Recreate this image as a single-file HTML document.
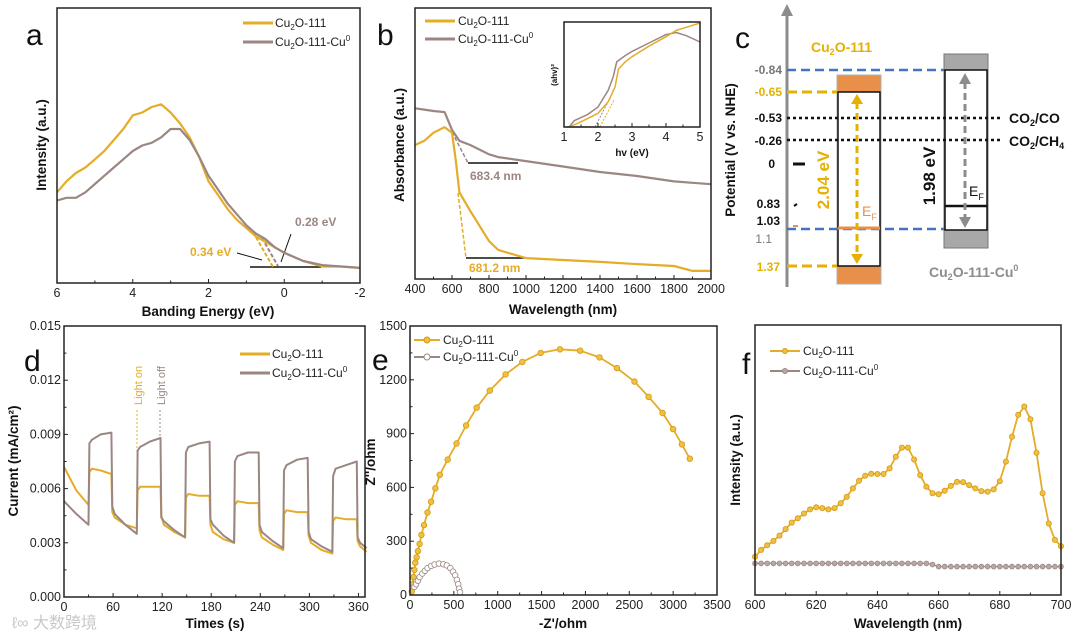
<!DOCTYPE html>
<html><head><meta charset="utf-8">
<style>
html,body{margin:0;padding:0;background:#fff;}
svg{display:block;font-family:"Liberation Sans","Noto Sans CJK SC",sans-serif;}
.tk{font-size:12.5px;fill:#222;}
.at{font-size:13.5px;font-weight:bold;fill:#111;}
.lg{font-size:12px;fill:#222;}
.pl{font-size:30px;fill:#111;}
</style></head>
<body>
<svg id="fig" width="1080" height="638" viewBox="0 0 1080 638" xmlns="http://www.w3.org/2000/svg">
<text class="pl" x="26" y="45">a</text>
<text class="at" x="208" y="316" text-anchor="middle">Banding Energy (eV)</text>
<text class="at" transform="translate(46,145) rotate(-90)" text-anchor="middle">Intensity (a.u.)</text>
<g>
<line x1="243" y1="23" x2="273" y2="23" stroke="#e5ac28" stroke-width="3"/>
<text class="lg" x="275" y="27">Cu<tspan font-size="8" dy="3">2</tspan><tspan dy="-3">O-111</tspan></text>
<line x1="243" y1="42" x2="273" y2="42" stroke="#9b8782" stroke-width="3"/>
<text class="lg" x="275" y="46">Cu<tspan font-size="8" dy="3">2</tspan><tspan dy="-3">O-111-Cu</tspan><tspan font-size="8" dy="-5">0</tspan></text>
</g>
<g>
<line x1="250" y1="267" x2="321" y2="267" stroke="#111" stroke-width="1.5"/>
<line x1="253" y1="232" x2="273" y2="267" stroke="#e5ac28" stroke-width="2" stroke-dasharray="4,2"/>
<line x1="262" y1="238" x2="278" y2="266" stroke="#9b8782" stroke-width="2" stroke-dasharray="4,2"/>
<text x="190" y="256" font-size="12" font-weight="bold" fill="#e5ac28">0.34 eV</text>
<line x1="237" y1="253" x2="262" y2="260" stroke="#111" stroke-width="1"/>
<text x="295" y="226" font-size="12" font-weight="bold" fill="#9b8782">0.28 eV</text>
<line x1="291" y1="234" x2="281" y2="262" stroke="#111" stroke-width="1"/>
</g>
<text class="pl" x="377" y="45">b</text>
<text class="at" x="563" y="314" text-anchor="middle">Wavelength (nm)</text>
<text class="at" transform="translate(404,145) rotate(-90)" text-anchor="middle">Absorbance (a.u.)</text>
<g>
<line x1="425" y1="21" x2="455" y2="21" stroke="#e5ac28" stroke-width="3"/>
<text class="lg" x="458" y="25">Cu<tspan font-size="8" dy="3">2</tspan><tspan dy="-3">O-111</tspan></text>
<line x1="425" y1="39" x2="455" y2="39" stroke="#9b8782" stroke-width="3"/>
<text class="lg" x="458" y="43">Cu<tspan font-size="8" dy="3">2</tspan><tspan dy="-3">O-111-Cu</tspan><tspan font-size="8" dy="-5">0</tspan></text>
</g>
<g>
<line x1="468" y1="163" x2="518" y2="163" stroke="#111" stroke-width="1.5"/>
<line x1="452" y1="132" x2="468" y2="163" stroke="#9b8782" stroke-width="1.5" stroke-dasharray="4,2"/>
<text x="470" y="180" font-size="12" font-weight="bold" fill="#9b8782">683.4 nm</text>
<line x1="466" y1="258" x2="524" y2="258" stroke="#111" stroke-width="1.5"/>
<line x1="458" y1="193" x2="466" y2="258" stroke="#e5ac28" stroke-width="1.5" stroke-dasharray="4,2"/>
<text x="469" y="272" font-size="12" font-weight="bold" fill="#e5ac28">681.2 nm</text>
</g>
<text transform="translate(557,75) rotate(-90)" text-anchor="middle" font-size="8" font-weight="bold" fill="#111">(ahv)²</text>
<text x="632" y="156" text-anchor="middle" font-size="10" font-weight="bold" fill="#111">hv (eV)</text>
<text x="566" y="99" font-size="8.5" font-weight="bold" fill="#9b8782">1.98 eV</text>
<text x="615" y="123" font-size="8.5" font-weight="bold" fill="#e5ac28">2.04 eV</text>
<g>
<text class="pl" x="735" y="48">c</text>
<text class="at" transform="translate(735,150) rotate(-90)" text-anchor="middle" font-size="14">Potential  (V vs. NHE)</text>
<line x1="787" y1="287" x2="787" y2="14" stroke="#8c8c8c" stroke-width="3"/>
<polygon points="781,16 793,16 787,4" fill="#8c8c8c"/>
<rect x="837" y="75" width="44" height="209" fill="#e8904a" stroke="#b0b0b0" stroke-width="1"/>
<rect x="838" y="92" width="42" height="174" fill="#fff" stroke="#111" stroke-width="1.5"/>
<rect x="944" y="54" width="44" height="194" fill="#a8a8a8" stroke="#777" stroke-width="1"/>
<rect x="945" y="70" width="42" height="160" fill="#fff" stroke="#111" stroke-width="1.5"/>
<line x1="787" y1="70" x2="944" y2="70" stroke="#4472c4" stroke-width="2.5" stroke-dasharray="9,5"/>
<line x1="787" y1="229" x2="944" y2="229" stroke="#4472c4" stroke-width="2.5" stroke-dasharray="9,5"/>
<line x1="787" y1="92" x2="837" y2="92" stroke="#e5b000" stroke-width="3" stroke-dasharray="10,5"/>
<line x1="787" y1="266" x2="837" y2="266" stroke="#e5b000" stroke-width="3" stroke-dasharray="10,5"/>
<line x1="787" y1="118" x2="1000" y2="118" stroke="#111" stroke-width="2.5" stroke-dasharray="3,3"/>
<line x1="787" y1="140" x2="1000" y2="140" stroke="#111" stroke-width="2.5" stroke-dasharray="3,3"/>
<line x1="793" y1="164" x2="805" y2="164" stroke="#111" stroke-width="3"/>
<line x1="794" y1="206" x2="797" y2="204" stroke="#111" stroke-width="2"/>
<line x1="793" y1="226" x2="798" y2="226" stroke="#e8904a" stroke-width="2"/>
<line x1="838" y1="228" x2="880" y2="228" stroke="#e8904a" stroke-width="3"/>
<line x1="945" y1="206" x2="987" y2="206" stroke="#111" stroke-width="2.5"/>
<line x1="857" y1="102" x2="857" y2="256" stroke="#e5b000" stroke-width="3" stroke-dasharray="7,4"/>
<polygon points="851,104 863,104 857,94" fill="#e5b000"/>
<polygon points="851,254 863,254 857,264" fill="#e5b000"/>
<line x1="965" y1="82" x2="965" y2="219" stroke="#8c8c8c" stroke-width="3" stroke-dasharray="7,4"/>
<polygon points="959,84 971,84 965,73" fill="#8c8c8c"/>
<polygon points="959,217 971,217 965,228" fill="#8c8c8c"/>
<text transform="translate(829,180) rotate(-90)" text-anchor="middle" font-size="17" font-weight="bold" fill="#e5b000">2.04 eV</text>
<text transform="translate(935,176) rotate(-90)" text-anchor="middle" font-size="17" font-weight="bold" fill="#111">1.98 eV</text>
<text x="862" y="216" font-size="14" fill="#e8904a">E<tspan font-size="9" dy="4">F</tspan></text>
<text x="969" y="196" font-size="14" fill="#111">E<tspan font-size="9" dy="4">F</tspan></text>
<text x="811" y="52" font-size="14" font-weight="bold" fill="#e5b000">Cu<tspan font-size="9" dy="3">2</tspan><tspan dy="-3">O-111</tspan></text>
<text x="929" y="277" font-size="14" font-weight="bold" fill="#8c8c8c">Cu<tspan font-size="9" dy="3">2</tspan><tspan dy="-3">O-111-Cu</tspan><tspan font-size="9" dy="-6">0</tspan></text>
<text x="1009" y="123" font-size="14" font-weight="bold" fill="#111">CO<tspan font-size="9" dy="3">2</tspan><tspan dy="-3">/CO</tspan></text>
<text x="1009" y="146" font-size="14" font-weight="bold" fill="#111">CO<tspan font-size="9" dy="3">2</tspan><tspan dy="-3">/CH</tspan><tspan font-size="9" dy="3">4</tspan></text>
<g font-size="12" font-weight="bold" text-anchor="end">
<text x="782" y="74" fill="#777">-0.84</text>
<text x="782" y="96" fill="#e5b000">-0.65</text>
<text x="782" y="122" fill="#111">-0.53</text>
<text x="782" y="145" fill="#111">-0.26</text>
<text x="775" y="168" fill="#111">0</text>
<text x="780" y="208" fill="#111">0.83</text>
<text x="780" y="225" fill="#111">1.03</text>
<text x="772" y="243" fill="#777" font-weight="normal">1.1</text>
<text x="780" y="271" fill="#e5b000">1.37</text>
</g>
</g>
<text class="pl" x="24" y="371">d</text>
<text class="at" x="215" y="628" text-anchor="middle">Times (s)</text>
<text class="at" transform="translate(18,461) rotate(-90)" text-anchor="middle">Current (mA/cm²)</text>
<g>
<line x1="240" y1="354" x2="270" y2="354" stroke="#e5ac28" stroke-width="3"/>
<text class="lg" x="272" y="358">Cu<tspan font-size="8" dy="3">2</tspan><tspan dy="-3">O-111</tspan></text>
<line x1="240" y1="373" x2="270" y2="373" stroke="#9b8782" stroke-width="3"/>
<text class="lg" x="272" y="377">Cu<tspan font-size="8" dy="3">2</tspan><tspan dy="-3">O-111-Cu</tspan><tspan font-size="8" dy="-5">0</tspan></text>
</g>
<line x1="137" y1="452" x2="137" y2="408" stroke="#e5ac28" stroke-width="1" stroke-dasharray="2,2"/>
<text transform="translate(142,405) rotate(-90)" font-size="11" fill="#e5ac28">Light on</text>
<line x1="160" y1="440" x2="160" y2="408" stroke="#9b8782" stroke-width="1" stroke-dasharray="2,2"/>
<text transform="translate(165,405) rotate(-90)" font-size="11" fill="#9b8782">Light off</text>
<text x="12" y="628" font-size="16" fill="#c8c8c8">ℓ∞ 大数跨境</text>
<text class="pl" x="372" y="370">e</text>
<text class="at" x="563" y="628" text-anchor="middle">-Z'/ohm</text>
<text class="at" transform="translate(375,462) rotate(-90)" text-anchor="middle">Z''/ohm</text>
<g>
<line x1="414" y1="340" x2="440" y2="340" stroke="#e5ac28" stroke-width="2"/>
<circle cx="427" cy="340" r="3" fill="#f0c040" stroke="#d59a10"/>
<text class="lg" x="443" y="344" font-size="11">Cu<tspan font-size="8" dy="3">2</tspan><tspan dy="-3">O-111</tspan></text>
<line x1="414" y1="357" x2="440" y2="357" stroke="#9b8782" stroke-width="2"/>
<circle cx="427" cy="357" r="3" fill="#fff" stroke="#9b8782"/>
<text class="lg" x="443" y="361" font-size="11">Cu<tspan font-size="8" dy="3">2</tspan><tspan dy="-3">O-111-Cu</tspan><tspan font-size="8" dy="-5">0</tspan></text>
</g>
<text class="pl" x="742" y="374">f</text>
<text class="at" x="908" y="628" text-anchor="middle">Wavelength (nm)</text>
<text class="at" transform="translate(740,460) rotate(-90)" text-anchor="middle">Intensity (a.u.)</text>
<g>
<line x1="770" y1="351" x2="800" y2="351" stroke="#e5ac28" stroke-width="2"/>
<circle cx="785" cy="351" r="2.5" fill="#f0c040" stroke="#d59a10"/>
<text class="lg" x="803" y="355">Cu<tspan font-size="8" dy="3">2</tspan><tspan dy="-3">O-111</tspan></text>
<line x1="770" y1="371" x2="800" y2="371" stroke="#9b8782" stroke-width="2"/>
<circle cx="785" cy="371" r="2.5" fill="#b8a8a4" stroke="#9b8782"/>
<text class="lg" x="803" y="375">Cu<tspan font-size="8" dy="3">2</tspan><tspan dy="-3">O-111-Cu</tspan><tspan font-size="8" dy="-5">0</tspan></text>
</g>
</svg>
<script>
const aEnergy = [6,5.75,5.5,5.25,5,4.75,4.5,4.25,4,3.75,3.5,3.25,3,2.75,2.5,2.25,2,1.75,1.5,1.25,1,0.75,0.5,0.25,0,-0.5,-1,-1.5,-2];
const aCu2o = [33,37,40,42,45,48,52,56,61,62,64,65,62,58,53,46,37,32,27,23,20,17,15,13,11,8,6,6,5.5];
const aCu0  = [30,31,31,33,36,39,42,45,48,50,51,53,56,56,52,46,39,34,29,25,21,18,16,13,11,8,6.5,6,5.5];
const aTicks = [6,4,2,0,-2];
const bWave = [400,450,500,560,600,620,640,700,800,850,1000,1200,1400,1600,1800,1900,2000];
const bCu2o = [49.4,51,54,56,54,44,32,25,14,10.7,7.7,7,6.3,5.5,4.8,3,3];
const bCu0 = [63,62.5,62,61.6,55,53,51,49.4,46,45,43.5,41.5,39.5,38,36,35.5,35];
const bTicks = [400,600,800,1000,1200,1400,1600,1800,2000];
const insetHvCu2o = [1.15,1.5,2,2.3,2.5,2.6,2.8,3,3.5,4,4.3,4.7,5];
const insetCu2o = [0,5,13,24,38,55,62,67,77,86,92,96,99];
const insetHvCu0 = [1.15,1.3,1.7,2,2.3,2.45,2.55,2.8,3,3.5,4,4.3,4.6,5];
const insetCu0 = [0,6,12,19,35,48,62,68,72,80,88,90,87,81];
const insetTicks = [1,2,3,4,5];
const dTime = [0,15,30,31,34,45,58,59,62,75,89,90,93,105,118,119,122,135,148,149,152,165,178,179,182,195,208,209,212,225,238,239,242,255,268,269,272,285,298,299,302,315,328,329,332,345,358,359,362,370];
const dCu2o = [0.0072,0.0059,0.0051,0.0069,0.0071,0.0070,0.0068,0.0047,0.0044,0.0040,0.0038,0.0059,0.0061,0.0061,0.0061,0.0045,0.0040,0.0036,0.0033,0.0055,0.0057,0.0056,0.0056,0.0040,0.0036,0.0032,0.0030,0.0051,0.0053,0.0052,0.0052,0.0037,0.0033,0.0029,0.0026,0.0046,0.0048,0.0047,0.0047,0.0034,0.0030,0.0026,0.0024,0.0042,0.0044,0.0043,0.0043,0.0031,0.0028,0.0025];
const dCu0 = [0.0053,0.0046,0.0040,0.0085,0.0087,0.0090,0.0091,0.0050,0.0046,0.0040,0.0035,0.0081,0.0083,0.0086,0.0088,0.0044,0.0042,0.0037,0.0033,0.0080,0.0083,0.0085,0.0086,0.0043,0.0040,0.0034,0.0030,0.0075,0.0078,0.0080,0.0080,0.0040,0.0036,0.0031,0.0027,0.0070,0.0073,0.0076,0.0077,0.0036,0.0032,0.0028,0.0025,0.0067,0.0071,0.0073,0.0075,0.0033,0.0030,0.0027];
const dXTicks = [0,60,120,180,240,300,360];
const dYTicks = [0,0.003,0.006,0.009,0.012,0.015];
const dYLabels = ['0.000','0.003','0.006','0.009','0.012','0.015'];
const eZreCu2o = [20,30,40,50,60,75,90,110,130,160,200,240,290,340,430,530,640,760,910,1090,1280,1490,1710,1940,2160,2360,2560,2720,2880,3000,3100,3190];
const eZimCu2o = [20,60,100,140,180,210,245,285,335,390,460,520,595,670,755,845,945,1045,1140,1230,1300,1350,1370,1362,1325,1265,1190,1105,1015,925,840,760];
const eZreCu0 = [50,70,90,110,140,170,200,240,280,330,380,420,460,490,515,535,550,560,570];
const eZimCu0 = [45,60,80,100,120,135,150,162,170,175,172,165,150,130,110,85,60,35,15];
const eXTicks = [0,500,1000,1500,2000,2500,3000,3500];
const eYTicks = [0,300,600,900,1200,1500];
const fWave = [600,602,604,606,608,610,612,614,616,618,620,622,624,626,628,630,632,634,636,638,640,642,644,646,648,650,652,654,656,658,660,662,664,666,668,670,672,674,676,678,680,682,684,686,688,690,692,694,696,698,700];
const fCu2o = [14.2,16.7,18.4,20,22,24.4,26.8,28.4,30.2,31.7,32.5,32.2,31.7,32.2,34,36.4,39.5,42.3,44.2,44.9,44.8,44.8,46.9,51.2,54.6,54.6,50.2,44.4,40.1,37.7,37.3,38.6,40.4,41.9,41.8,40.7,39.5,38.5,38.3,39.1,42.2,49.4,58.6,66.7,69.8,65.1,52.7,37.7,26.5,20.4,18.1];
const fCu0 = [11.7,11.7,11.7,11.7,11.7,11.7,11.7,11.7,11.7,11.7,11.7,11.7,11.7,11.7,11.7,11.7,11.7,11.7,11.7,11.7,11.7,11.7,11.7,11.7,11.7,11.7,11.7,11.7,11.7,11.3,10.5,10.5,10.5,10.5,10.5,10.5,10.5,10.5,10.5,10.5,10.5,10.5,10.5,10.5,10.5,10.5,10.5,10.5,10.5,10.5,10.5];
const fTicks = [600,620,640,660,680,700];

const NS = 'http://www.w3.org/2000/svg';
const svg = document.getElementById('fig');
const YEL = '#e5ac28', GRY = '#9b8782';
function mk(tag, attrs, name, parent) {
  const e = document.createElementNS(NS, tag);
  for (const k in attrs) e.setAttribute(k, attrs[k]);
  
  
  (parent || svg).appendChild(e);
  return e;
}
function lin(d0, d1, r0, r1) { return v => r0 + (v - d0) * (r1 - r0) / (d1 - d0); }
function frame(x0, y0, x1, y1, name) {
  mk('rect', {x: x0, y: y0, width: x1 - x0, height: y1 - y0, fill: 'none', stroke: '#222', 'stroke-width': 1.5}, name);
}
function xAxis(sx, vals, labels, yb, name, minor, fs) {
  vals.forEach((v, i) => {
    const x = sx(v);
    mk('line', {x1: x, y1: yb, x2: x, y2: yb - 4, stroke: '#222', 'stroke-width': 1}, name + '-tick');
    const t = mk('text', {x: x, y: yb + 14, 'text-anchor': 'middle', class: 'tk', 'font-size': fs || 12.5}, name + '-label');
    t.textContent = labels[i];
    if (minor && i < vals.length - 1) {
      const xm = sx((v + vals[i + 1]) / 2);
      mk('line', {x1: xm, y1: yb, x2: xm, y2: yb - 2.5, stroke: '#222', 'stroke-width': 1}, name + '-minor-tick');
    }
  });
}
function yAxis(sy, vals, labels, xl, name) {
  vals.forEach((v, i) => {
    const y = sy(v);
    mk('line', {x1: xl, y1: y, x2: xl + 4, y2: y, stroke: '#222', 'stroke-width': 1}, name + '-tick');
    const t = mk('text', {x: xl - 3, y: y + 4, 'text-anchor': 'end', class: 'tk'}, name + '-label');
    t.textContent = labels[i];
    if (i < vals.length - 1) {
      const ym = sy((v + vals[i + 1]) / 2);
      mk('line', {x1: xl, y1: ym, x2: xl + 2.5, y2: ym, stroke: '#222', 'stroke-width': 1}, name + '-minor-tick');
    }
  });
}
function line(xs, ys, sx, sy, color, w, name) {
  const d = xs.map((x, i) => (i ? 'L' : 'M') + sx(x).toFixed(1) + ',' + sy(ys[i]).toFixed(1)).join('');
  return mk('path', {d: d, fill: 'none', stroke: color, 'stroke-width': w, 'stroke-linejoin': 'round'}, name);
}
function dots(xs, ys, sx, sy, fill, stroke, r, name) {
  xs.forEach((x, i) => {
    mk('circle', {cx: sx(x).toFixed(1), cy: sy(ys[i]).toFixed(1), r: r, fill: fill, stroke: stroke, 'stroke-width': 0.8}, name);
  });
}

const sxA = lin(6, -2, 57, 360), syA = lin(0, 100, 283, 8);
line(aEnergy, aCu2o, sxA, syA, YEL, 2.2, 'series-a-cu2o');
line(aEnergy, aCu0, sxA, syA, GRY, 2.2, 'series-a-cu0');
frame(57, 8, 360, 283, 'panel-a-frame');
xAxis(sxA, aTicks, aTicks.map(String), 283, 'panel-a-x', true);

const sxB = lin(400, 2000, 415, 711), syB = lin(0, 100, 279, 8);
line(bWave, bCu0, sxB, syB, GRY, 2.2, 'series-b-cu0');
line(bWave, bCu2o, sxB, syB, YEL, 2.2, 'series-b-cu2o');
frame(415, 8, 711, 279, 'panel-b-frame');
xAxis(sxB, bTicks, bTicks.map(String), 279, 'panel-b-x', true);
const sxI = lin(1, 5, 564, 700), syI = lin(0, 100, 127, 22);
mk('rect', {x: 564, y: 22, width: 136, height: 105, fill: '#fff', stroke: 'none'}, 'inset-bg');
mk('line', {x1: 566, y1: 127, x2: 600, y2: 127, stroke: '#555', 'stroke-width': 1.2}, 'inset-baseline');
mk('line', {x1: 595, y1: 127, x2: 610, y2: 98, stroke: GRY, 'stroke-width': 1, 'stroke-dasharray': '2,1.5'}, 'inset-tangent-cu0');
mk('line', {x1: 600, y1: 127, x2: 614, y2: 100, stroke: YEL, 'stroke-width': 1, 'stroke-dasharray': '2,1.5'}, 'inset-tangent-cu2o');
line(insetHvCu0, insetCu0, sxI, syI, GRY, 1.5, 'inset-series-cu0');
line(insetHvCu2o, insetCu2o, sxI, syI, YEL, 1.5, 'inset-series-cu2o');
frame(564, 22, 700, 127, 'inset-frame');
xAxis(sxI, insetTicks, insetTicks.map(String), 127, 'inset-x', true, 9.5);

const sxD = lin(0, 368, 64, 365), syD = lin(0, 0.015, 597, 326);
line(dTime, dCu2o, sxD, syD, YEL, 2, 'series-d-cu2o');
line(dTime, dCu0, sxD, syD, GRY, 2, 'series-d-cu0');
frame(64, 326, 365, 597, 'panel-d-frame');
xAxis(sxD, dXTicks, dXTicks.map(String), 597, 'panel-d-x', true);
yAxis(syD, dYTicks, dYLabels, 64, 'panel-d-y');

const sxE = lin(0, 3500, 410, 717), syE = lin(0, 1500, 595, 326);
line(eZreCu2o, eZimCu2o, sxE, syE, YEL, 1.8, 'series-e-cu2o-line');
dots(eZreCu2o, eZimCu2o, sxE, syE, '#f0c040', '#d59a10', 2.8, 'series-e-cu2o-point');
line(eZreCu0, eZimCu0, sxE, syE, GRY, 1.5, 'series-e-cu0-line');
dots(eZreCu0, eZimCu0, sxE, syE, '#fff', GRY, 2.8, 'series-e-cu0-point');
frame(410, 326, 717, 595, 'panel-e-frame');
xAxis(sxE, eXTicks, eXTicks.map(String), 595, 'panel-e-x', true);
yAxis(syE, eYTicks, eYTicks.map(String), 410, 'panel-e-y');

const sxF = lin(600, 700, 755, 1061), syF = lin(0, 100, 595, 325);
line(fWave, fCu0, sxF, syF, GRY, 1.2, 'series-f-cu0-line');
dots(fWave, fCu0, sxF, syF, '#b8a8a4', GRY, 2.4, 'series-f-cu0-point');
line(fWave, fCu2o, sxF, syF, YEL, 1.8, 'series-f-cu2o-line');
dots(fWave, fCu2o, sxF, syF, '#f0c040', '#d59a10', 2.6, 'series-f-cu2o-point');
frame(755, 325, 1061, 595, 'panel-f-frame');
xAxis(sxF, fTicks, fTicks.map(String), 595, 'panel-f-x', true);
</script>
</body></html>
